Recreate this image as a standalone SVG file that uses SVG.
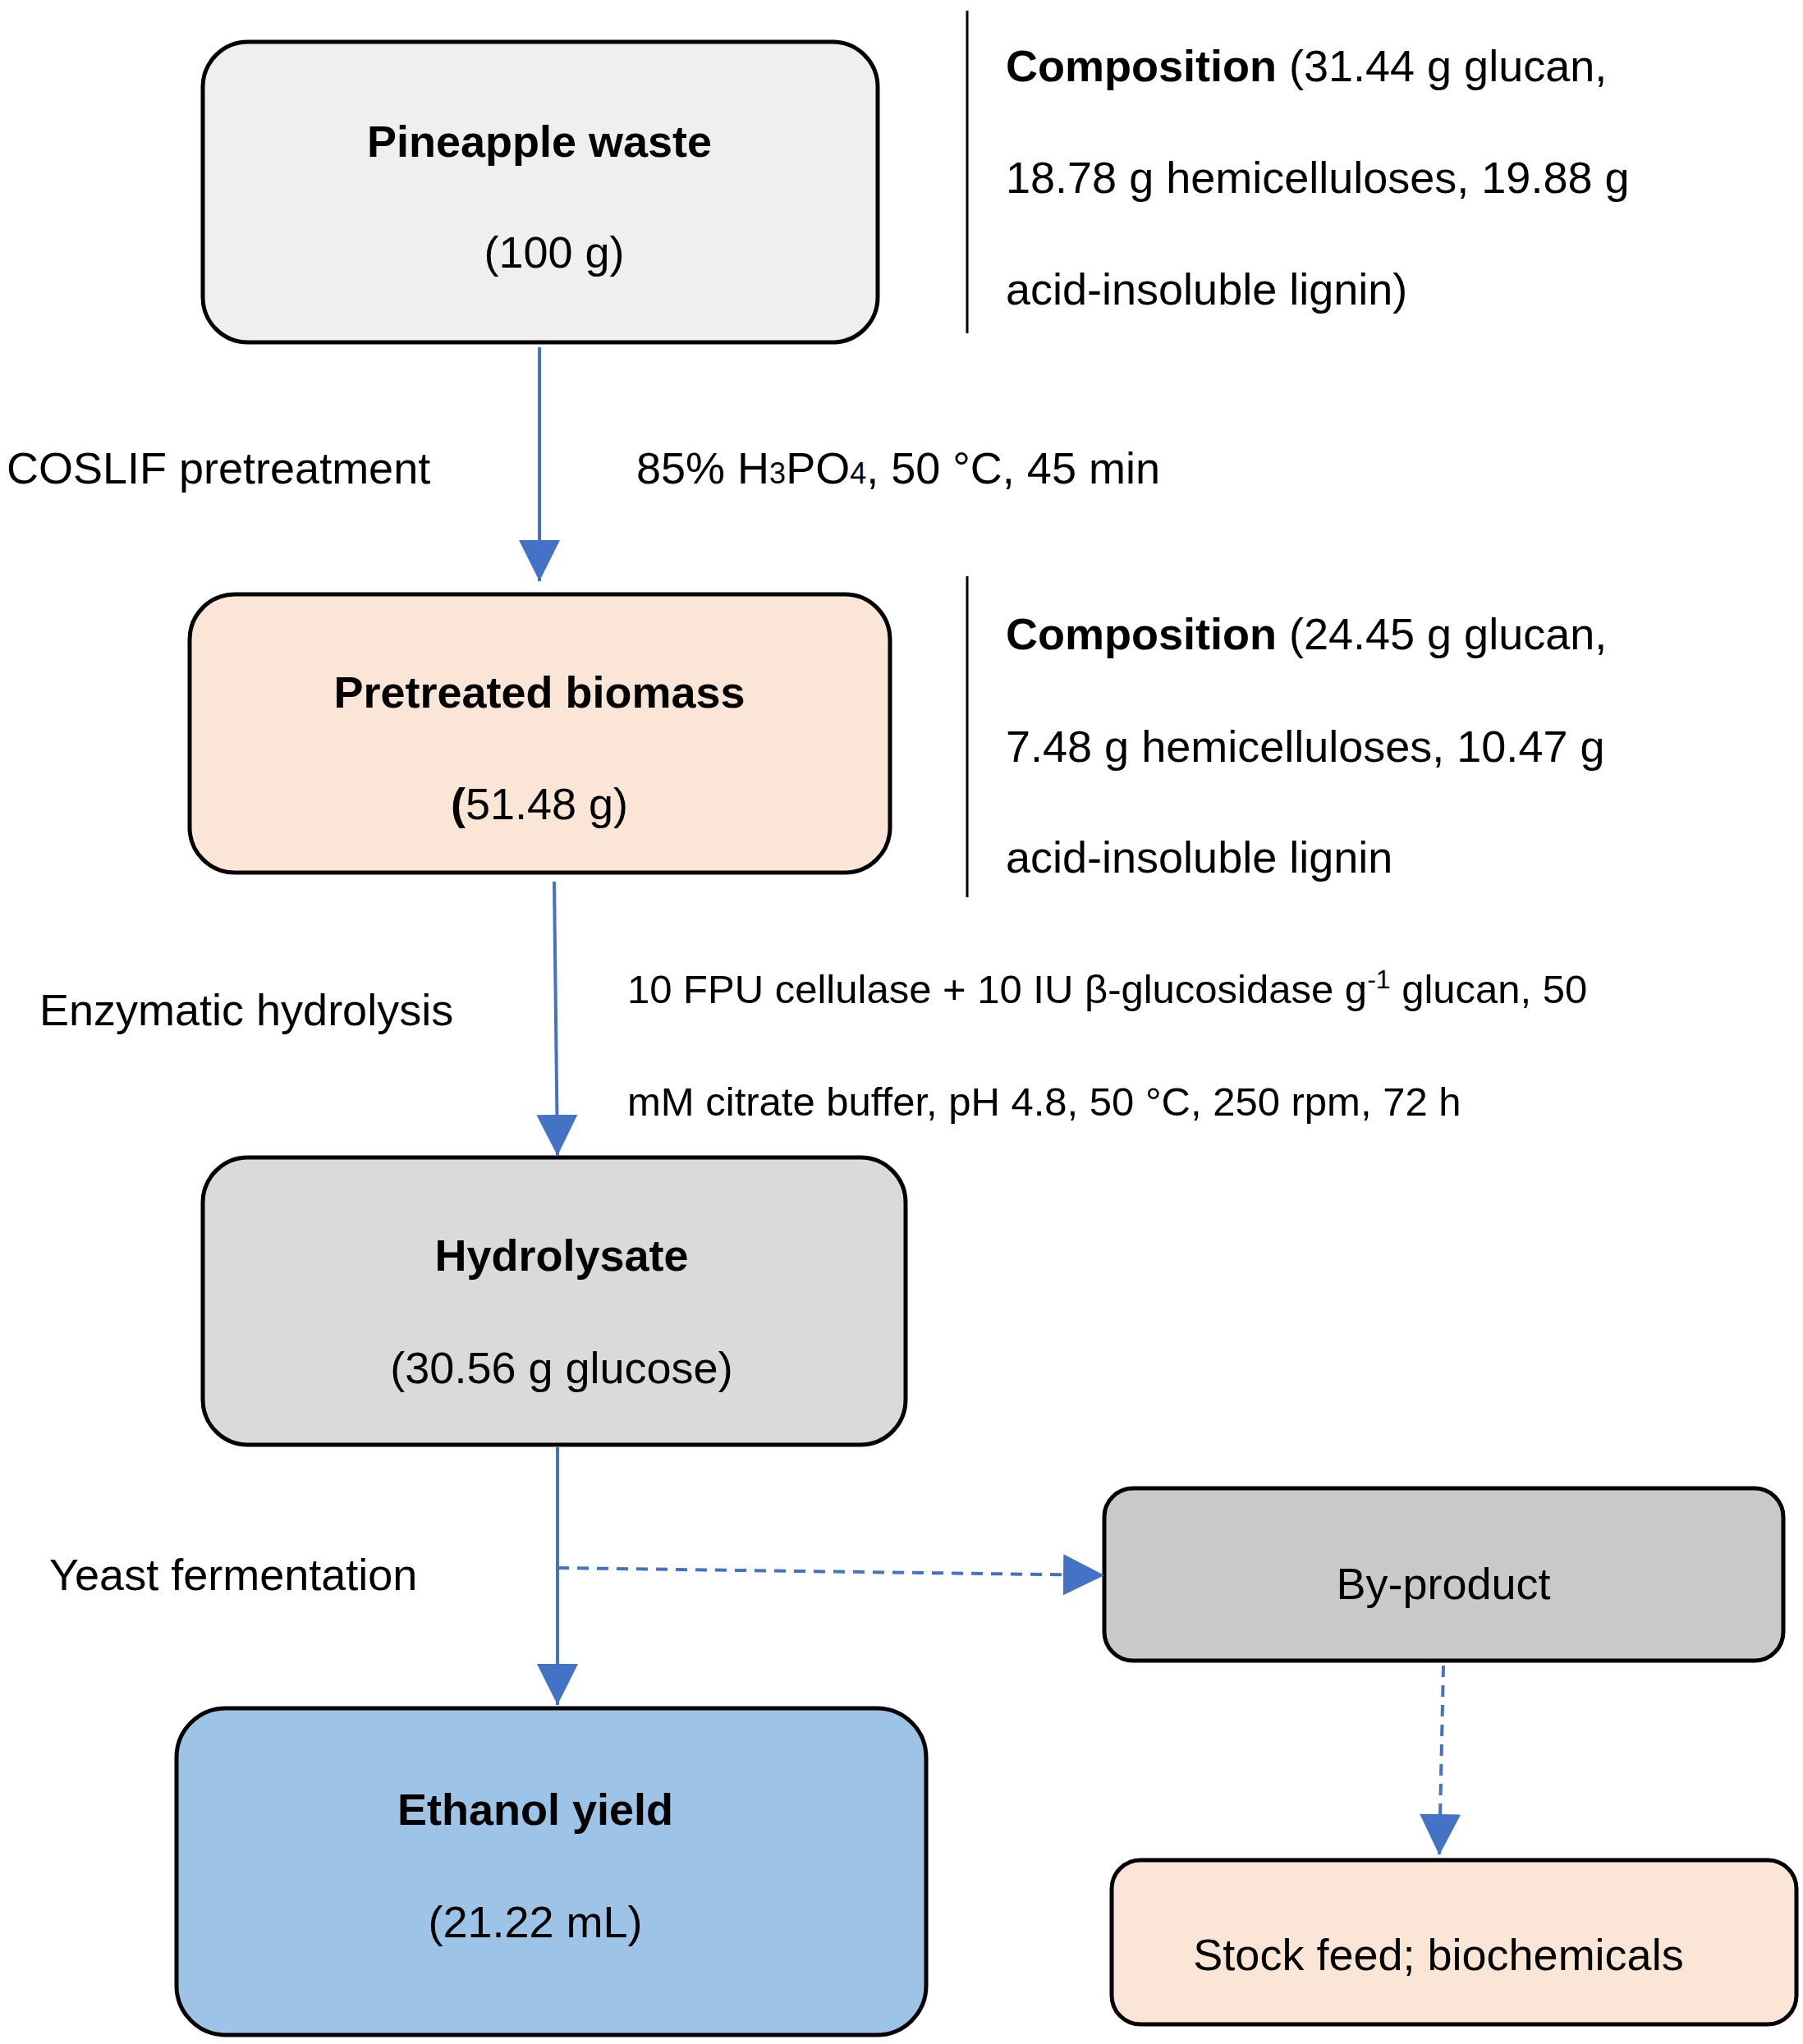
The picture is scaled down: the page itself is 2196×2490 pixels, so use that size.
<svg xmlns="http://www.w3.org/2000/svg" width="2196" height="2490" viewBox="0 0 2196 2490">
<defs>
<style>
text{font-family:"Liberation Sans",Arial,sans-serif;font-size:54px;fill:#000}
.b{font-weight:bold}
.s{font-size:49px}
.m{text-anchor:middle}
.box{stroke:#000;stroke-width:5}
.ln{stroke:#4472c4;stroke-width:4;fill:none}
.d{stroke-dasharray:14 10}
</style>
<marker id="ah" markerWidth="10" markerHeight="10" refX="9" refY="5" orient="auto" markerUnits="userSpaceOnUse" viewBox="0 0 10 10" style="overflow:visible"><path d="M0,0 L10,5 L0,10 Z" fill="#4472c4" transform="scale(1)"/></marker>
<marker id="a" viewBox="0 0 10 10" refX="10" refY="5" markerWidth="50" markerHeight="50" markerUnits="userSpaceOnUse" orient="auto"><path d="M0,0 L10,5 L0,10 Z" fill="#4472c4"/></marker>
</defs>
<rect width="2196" height="2490" fill="#fff"/>
<g id="n1"><rect class="box" x="247" y="51" width="822" height="366" rx="55" fill="#efefef"/>
<text class="b m" x="657" y="191">Pineapple waste</text><text class="m" x="675" y="326">(100 g)</text></g>
<g id="c1"><line x1="1178" y1="13" x2="1178" y2="406" stroke="#000" stroke-width="3"/>
<text x="1225" y="99"><tspan class="b">Composition</tspan> (31.44 g glucan,</text>
<text x="1225" y="235">18.78 g hemicelluloses, 19.88 g</text>
<text x="1225" y="371">acid-insoluble lignin)</text></g>
<g id="n2"><rect class="box" x="231" y="724" width="853" height="339" rx="55" fill="#fbe5d6"/>
<text class="b m" x="657" y="862">Pretreated biomass</text><text class="m" x="657" y="998"><tspan class="b">(</tspan>51.48 g)</text></g>
<g id="c2"><line x1="1178" y1="702" x2="1178" y2="1093" stroke="#000" stroke-width="3"/>
<text x="1225" y="791"><tspan class="b">Composition</tspan> (24.45 g glucan,</text>
<text x="1225" y="928">7.48 g hemicelluloses, 10.47 g</text>
<text x="1225" y="1063">acid-insoluble lignin</text></g>
<g id="n3"><rect class="box" x="247" y="1410" width="856" height="350" rx="55" fill="#dadada"/>
<text class="b m" x="684" y="1548">Hydrolysate</text><text class="m" x="684" y="1685">(30.56 g glucose)</text></g>
<g id="n4"><rect class="box" x="215" y="2081" width="913" height="398" rx="60" fill="#9dc3e6"/>
<text class="b m" x="652" y="2223">Ethanol yield</text><text class="m" x="652" y="2360">(21.22 mL)</text></g>
<g id="n5"><rect class="box" x="1345" y="1813" width="827" height="210" rx="35" fill="#c9c9c9"/>
<text class="m" x="1758" y="1948">By-product</text></g>
<g id="n6"><rect class="box" x="1354" y="2266" width="834" height="200" rx="35" fill="#fbe5d6"/>
<text class="m" x="1752" y="2400">Stock feed; biochemicals</text></g>
<g id="labels">
<text x="8" y="589">COSLIF pretreatment</text>
<text x="775" y="589">85% H<tspan font-size="36">3</tspan>PO<tspan font-size="36">4</tspan>, 50 °C, 45 min</text>
<text x="48" y="1249">Enzymatic hydrolysis</text>
<text class="s" x="764" y="1222">10 FPU cellulase + 10 IU β-glucosidase g<tspan font-size="32" dy="-18">-1</tspan><tspan dy="18"> glucan, 50</tspan></text>
<text class="s" x="764" y="1359">mM citrate buffer, pH 4.8, 50 °C, 250 rpm, 72 h</text>
<text x="60" y="1937">Yeast fermentation</text>
</g>
<g id="connectors">
<path class="ln" d="M657,423 L657,708" marker-end="url(#a)"/>
<path class="ln" d="M675,1074 L679,1408" marker-end="url(#a)"/>
<path class="ln" d="M679,1763 L679,2077" marker-end="url(#a)"/>
<path class="ln d" d="M679,1910 L1345,1919" marker-end="url(#a)"/>
<path class="ln d" d="M1758,2029 L1753,2260" marker-end="url(#a)"/>
</g>
</svg>
